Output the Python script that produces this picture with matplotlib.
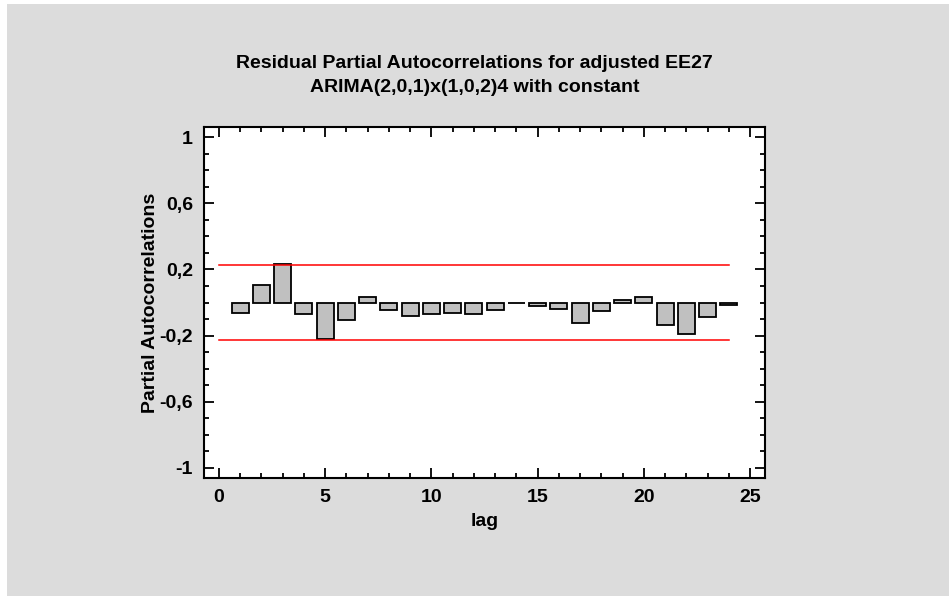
import numpy as np
import matplotlib
matplotlib.use('Agg')
import matplotlib.pyplot as plt
from matplotlib.ticker import MultipleLocator, FixedLocator

# Dados
lags = list(range(1, 25))
pacf = [-0.064, 0.108, 0.233, -0.070, -0.223, -0.106, 0.034, -0.044,
        -0.080, -0.070, -0.062, -0.072, -0.046, -0.003, -0.020, -0.038,
        -0.127, -0.054, 0.016, 0.034, -0.135, -0.189, -0.090, -0.018]
limite = 0.227
ytick_vals = [-1, -0.6, -0.2, 0.2, 0.6, 1]
ytick_labels = ['-1', '-0,6', '-0,2', '0,2', '0,6', '1']
xtick_vals = [0, 5, 10, 15, 20, 25]

plt.rcParams['font.family'] = ['Liberation Sans', 'DejaVu Sans']
plt.rcParams['font.weight'] = 'bold'

fig = plt.figure(figsize=(9.49, 5.96), dpi=100, facecolor='white')
# fundo cinza
bg = fig.add_axes([7/949, 0, 1 - 7/949, 1 - 4/596])
bg.set_facecolor('#dcdcdc')
bg.set_xticks([])
bg.set_yticks([])
for s in bg.spines.values():
    s.set_visible(False)

ax = fig.add_axes([204/949, 1 - 478/596, (765 - 204)/949, (478 - 127)/596])
ax.set_facecolor('white')
ax.bar(lags, pacf, width=0.8, color='#c0c0c0', edgecolor='black', linewidth=1.3, zorder=2)
ax.plot([0, 24], [limite, limite], color='red', linewidth=1.1, zorder=3)
ax.plot([0, 24], [-limite, -limite], color='red', linewidth=1.1, zorder=3)

ax.set_xlim(-0.7, 25.7)
ax.set_ylim(-1.063, 1.063)
ax.xaxis.set_major_locator(FixedLocator(xtick_vals))
ax.xaxis.set_minor_locator(MultipleLocator(1))
ax.yaxis.set_major_locator(FixedLocator(ytick_vals))
ax.yaxis.set_minor_locator(MultipleLocator(0.1))
ax.set_yticklabels(ytick_labels)
ax.tick_params(which='both', direction='in', top=True, right=True, width=1.3)
ax.tick_params(which='major', length=7, labelsize=14, pad=8)
ax.tick_params(which='minor', length=3.5)
for s in ax.spines.values():
    s.set_linewidth(1.5)

ax.set_xlabel('lag', fontsize=14, fontweight='bold', labelpad=5)
ax.set_ylabel('Partial Autocorrelations', fontsize=14, fontweight='bold', labelpad=0)
fig.text(0.5, 1 - 63/596, 'Residual Partial Autocorrelations for adjusted EE27',
         ha='center', va='center', fontsize=14, fontweight='bold')
fig.text(0.5, 1 - 87/596, 'ARIMA(2,0,1)x(1,0,2)4 with constant',
         ha='center', va='center', fontsize=14, fontweight='bold')

fig.savefig('out.png', dpi=100, facecolor='white')
